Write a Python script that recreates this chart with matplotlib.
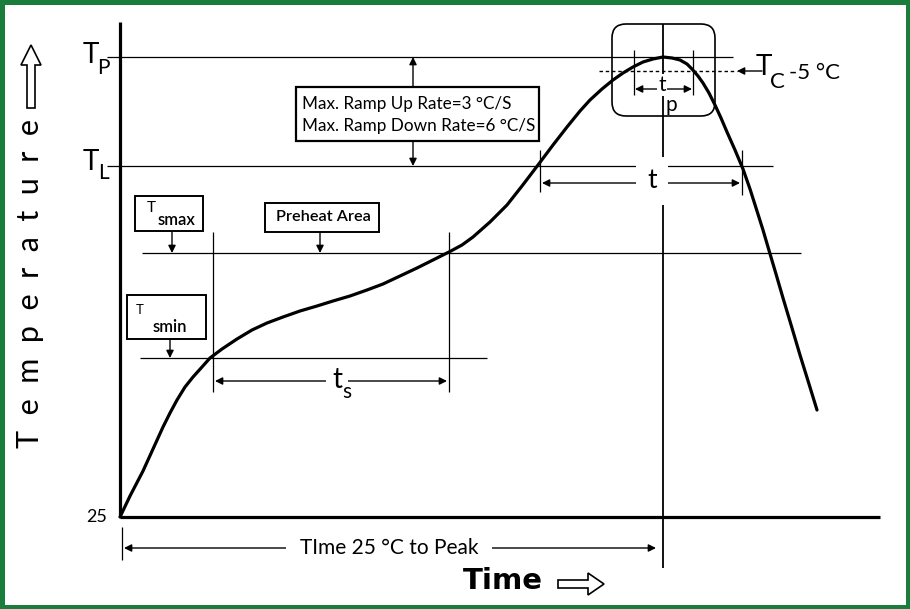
import matplotlib.pyplot as plt
from matplotlib.patches import FancyBboxPatch, FancyArrow, Rectangle

plt.rcParams['font.family'] = ['Lato', 'DejaVu Sans']

# reflow profile
# time and temperature in drawing units, origin = (start, 25 degC)
profile_time = [0, 10, 23, 33, 43, 50, 57, 65, 73, 82,
                90, 102, 117, 132, 147, 163, 180, 197, 213, 230,
                247, 263, 280, 297, 313, 329, 342, 353, 370, 387,
                402, 418, 433, 447, 460, 470, 482, 493, 503, 513,
                523, 533, 543, 552, 560, 567, 572, 578, 583, 589,
                595, 601, 607, 615, 623, 630, 637, 643, 648, 656,
                663, 672, 680, 689, 697]
profile_temp = [0, 21, 46, 68, 90, 104, 117, 130, 140, 150,
                159, 168, 178, 187, 194, 200, 206, 211, 216, 221,
                227, 233, 241, 249, 257, 265, 272, 280, 295, 312,
                331, 352, 372, 390, 406, 417, 428, 437, 444, 450,
                455, 458, 460, 459, 457, 453, 448, 441, 434, 424,
                412, 399, 385, 367, 348, 328, 306, 287, 270, 243,
                219, 189, 162, 133, 107]

# temperature levels
T_P, T_C5, T_L, T_SMAX, T_SMIN = 460, 446, 351, 264, 159
# times where the profile crosses the levels
t_smin, t_smax = 93, 329
t_l_up, t_l_down = 420, 622
t_peak = 543
t_c_up, t_c_down = 514, 573

GREEN = '#1b7d3c'
THIN = 0.9
THICK = 2.3

fig = plt.figure(figsize=(9.1, 6.09), dpi=100)
ax = fig.add_axes([0, 0, 1, 1])
ax.set_xlim(-120, 790)
ax.set_ylim(-92, 517)
ax.axis('off')

# green frame
fig.patches.append(Rectangle((0.0027, 0.004), 0.9946, 0.992, transform=fig.transFigure,
                             fill=False, edgecolor=GREEN, linewidth=3.6))


def line(xs, ys, lw=THIN, **kw):
    ax.plot(xs, ys, color='k', lw=lw, solid_capstyle='butt', **kw)


def arrow(x0, y0, x1, y1, style='-|>'):
    ax.annotate('', xy=(x1, y1), xytext=(x0, y0),
                arrowprops=dict(arrowstyle=style, color='k', lw=1.0,
                                shrinkA=0, shrinkB=0, mutation_scale=11))


# axes
line([0, 0], [0, 495], lw=THICK)
line([0, 760], [0, 0], lw=THICK)
ax.text(-13, 0, '25', ha='right', va='center', fontsize=13)

# level lines
line([-13, 613], [T_P, T_P])
line([-13, 653], [T_L, T_L])
line([22, 681], [T_SMAX, T_SMAX])
line([20, 367], [T_SMIN, T_SMIN])
ax.plot([479, 617], [T_C5, T_C5], color='k', lw=1.0, ls=(0, (2.5, 2)))
arrow(642, T_C5, 617, T_C5)

# vertical markers
line([t_smin, t_smin], [125, 285])
line([t_smax, t_smax], [125, 285])
line([t_peak, t_peak], [-51, 493], lw=1.3)
line([t_l_up, t_l_up], [325, 367])
line([t_l_down, t_l_down], [322, 367])
line([t_c_up, t_c_up], [422, 467])
line([t_c_down, t_c_down], [422, 467])
line([2, 2], [-43, -10])

# profile curve
ax.plot(profile_time, profile_temp, color='k', lw=THICK, solid_joinstyle='round',
        solid_capstyle='round')

# peak box
ax.add_patch(FancyBboxPatch((492, 401), 103, 92, boxstyle='round,pad=0,rounding_size=14',
                            fill=False, edgecolor='k', lw=1.2))

# dimension arrows
arrow(t_smin + 2, 136, t_smax - 2, 136, style='<|-|>')
ax.text(217, 137, 't', ha='center', va='center', fontsize=20,
        bbox=dict(facecolor='white', edgecolor='none', pad=4))
ax.text(227, 125, 's', ha='center', va='center', fontsize=15)

arrow(t_l_up + 2, 334, t_l_down - 2, 334, style='<|-|>')
ax.text(532, 336, 't', ha='center', va='center', fontsize=19,
        bbox=dict(facecolor='white', edgecolor='none', pad=8))

arrow(t_c_up + 1, 428, t_c_down - 1, 428, style='<|-|>')
ax.text(542, 432, 't', ha='center', va='center', fontsize=15,
        bbox=dict(facecolor='white', edgecolor='none', pad=1))
ax.text(551, 412, 'p', ha='center', va='center', fontsize=15)

arrow(4, -31, 536, -31, style='<|-|>')
ax.text(269, -31, 'TIme 25 °C to Peak', ha='center', va='center', fontsize=15,
        bbox=dict(facecolor='white', edgecolor='none', pad=10))

# ramp box
ax.add_patch(Rectangle((176, 376), 243, 54, fill=False, edgecolor='k', lw=1.6))
ax.text(182, 413, 'Max. Ramp Up Rate=3 °C/S', ha='left', va='center', fontsize=12.3)
ax.text(182, 391, 'Max. Ramp Down Rate=6 °C/S', ha='left', va='center', fontsize=12.3)
arrow(293, 430, 293, T_P)
arrow(293, 376, 293, T_L)

# Tsmax box
ax.add_patch(Rectangle((15, 286), 68, 35, fill=False, edgecolor='k', lw=1.4))
ax.text(31, 309, 'T', ha='center', va='center', fontsize=11)
ax.text(56, 297, 'smax', ha='center', va='center', fontsize=12, fontweight='semibold')
arrow(52, 285, 52, T_SMAX)

# preheat box
ax.add_patch(Rectangle((145, 285), 114, 29, fill=False, edgecolor='k', lw=1.4))
ax.text(203, 300, 'Preheat Area', ha='center', va='center', fontsize=11.7,
        fontweight='semibold')
arrow(200, 285, 200, T_SMAX)

# Tsmin box
ax.add_patch(Rectangle((7, 178), 79, 44, fill=False, edgecolor='k', lw=1.4))
ax.text(20, 207, 'T', ha='center', va='center', fontsize=9.5)
ax.text(50, 190, 'smin', ha='center', va='center', fontsize=12, fontweight='semibold')
arrow(50, 178, 50, T_SMIN)

# level labels
ax.text(-29, 462, 'T', ha='center', va='center', fontsize=20)
ax.text(-17, 449, 'P', ha='center', va='center', fontsize=15)
ax.text(-29, 355, 'T', ha='center', va='center', fontsize=20)
ax.text(-16, 344, 'L', ha='center', va='center', fontsize=15)
ax.text(644, 450, 'T', ha='center', va='center', fontsize=20)
ax.text(657, 435, 'C', ha='center', va='center', fontsize=16)
ax.text(669, 444, '-5 °C', ha='left', va='center', fontsize=16)

# axis titles with outline arrows
ax.text(383, -64, 'Time', ha='center', va='center', fontsize=21, fontweight='bold',
        family='DejaVu Sans')
ax.add_patch(FancyArrow(438, -67, 30, 0, width=8, head_width=22, head_length=16,
                        length_includes_head=False, facecolor='white', edgecolor='k', lw=1.2))
ax.text(-90, 234, 'T  e  m  p  e  r  a  t  u  r  e', rotation=90, ha='center', va='center',
        fontsize=22)
ax.add_patch(FancyArrow(-89, 409, 0, 43, width=8, head_width=20, head_length=20,
                        facecolor='white', edgecolor='k', lw=1.2))

fig.savefig('out.png', dpi=100)
